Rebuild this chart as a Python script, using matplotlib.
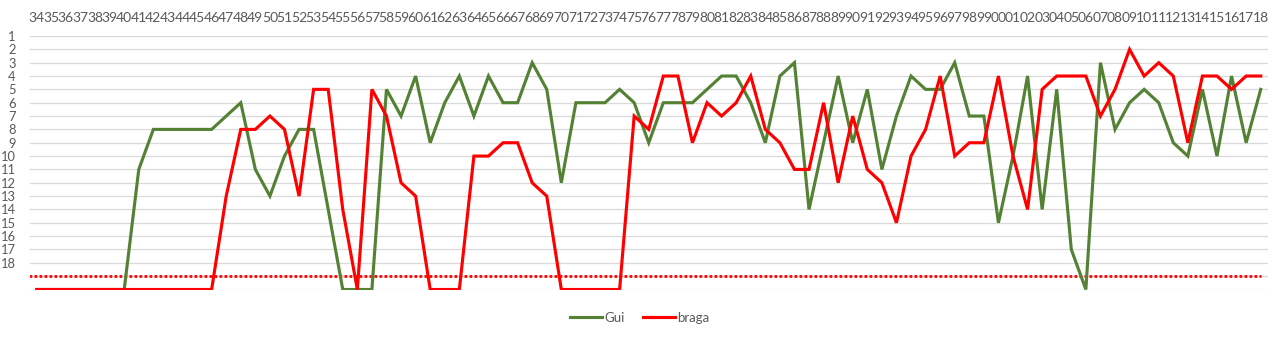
import matplotlib
matplotlib.use("Agg")
import matplotlib.pyplot as plt

years = [f"{y % 100:02d}" for y in range(1934, 2019)]

gui = [20, 20, 20, 20, 20, 20, 20, 11, 8, 8, 8, 8, 8, 7, 6, 11, 13, 10, 8, 8,
       14, 20, 20, 20, 5, 7, 4, 9, 6, 4, 7, 4, 6, 6, 3, 5, 12, 6, 6, 6,
       5, 6, 9, 6, 6, 6, 5, 4, 4, 6, 9, 4, 3, 14, 9, 4, 9, 5, 11, 7,
       4, 5, 5, 3, 7, 7, 15, 10, 4, 14, 5, 17, 20, 3, 8, 6, 5, 6, 9, 10,
       5, 10, 4, 9, 5]

braga = [20, 20, 20, 20, 20, 20, 20, 20, 20, 20, 20, 20, 20, 13, 8, 8, 7, 8, 13, 5,
         5, 14, 20, 5, 7, 12, 13, 20, 20, 20, 10, 10, 9, 9, 12, 13, 20, 20, 20, 20,
         20, 7, 8, 4, 4, 9, 6, 7, 6, 4, 8, 9, 11, 11, 6, 12, 7, 11, 12, 15,
         10, 8, 4, 10, 9, 9, 4, 10, 14, 5, 4, 4, 4, 7, 5, 2, 4, 3, 4, 9,
         4, 4, 5, 4, 4]

threshold = 19
ytick_vals = list(range(1, 21))
ytick_labels = [str(v) if v <= 18 else "" for v in ytick_vals]

plt.rcParams['font.family'] = ['Lato', 'DejaVu Sans']
txt = '#595959'

fig = plt.figure(figsize=(12.8, 3.4), dpi=100)
ax = fig.add_axes([29.5 / 1280, 1 - 289.5 / 340, (1268 - 29.5) / 1280, (289.5 - 36) / 340])

x = list(range(len(years)))
ax.hlines(threshold, -0.5, len(years) - 1, colors='#FF0000', linewidth=2.0,
          linestyles=(0, (1, 0.8)), zorder=2)
l1, = ax.plot(x, gui, color='#548235', linewidth=2.25, label='Gui', zorder=3,
              solid_joinstyle='miter')
l2, = ax.plot(x, braga, color='#FF0000', linewidth=2.25, label='braga', zorder=4,
              solid_joinstyle='miter')

ax.set_xlim(-0.5, len(years) - 0.5)
ax.set_ylim(20, 1)
ax.set_yticks(ytick_vals)
ax.set_yticklabels(ytick_labels)
ax.set_xticks(x)
ax.set_xticklabels(years)
ax.xaxis.tick_top()
ax.tick_params(axis='x', length=0, pad=8.5, labelsize=10, labelcolor=txt)
ax.tick_params(axis='y', length=0, pad=10, labelsize=9.3, labelcolor=txt)
for lab in ax.get_yticklabels():
    lab.set_horizontalalignment('right')
ax.grid(axis='y', color='#d9d9d9', linewidth=0.9)
ax.set_axisbelow(True)
for s in ax.spines.values():
    s.set_visible(False)

fig.legend(handles=[l1, l2], loc='center', bbox_to_anchor=(0.5, 1 - 318 / 340),
           ncol=2, frameon=False, fontsize=9.5, handlelength=2.4,
           handletextpad=0.2, columnspacing=1.4, labelcolor=txt)

fig.savefig('out.png', dpi=100)
